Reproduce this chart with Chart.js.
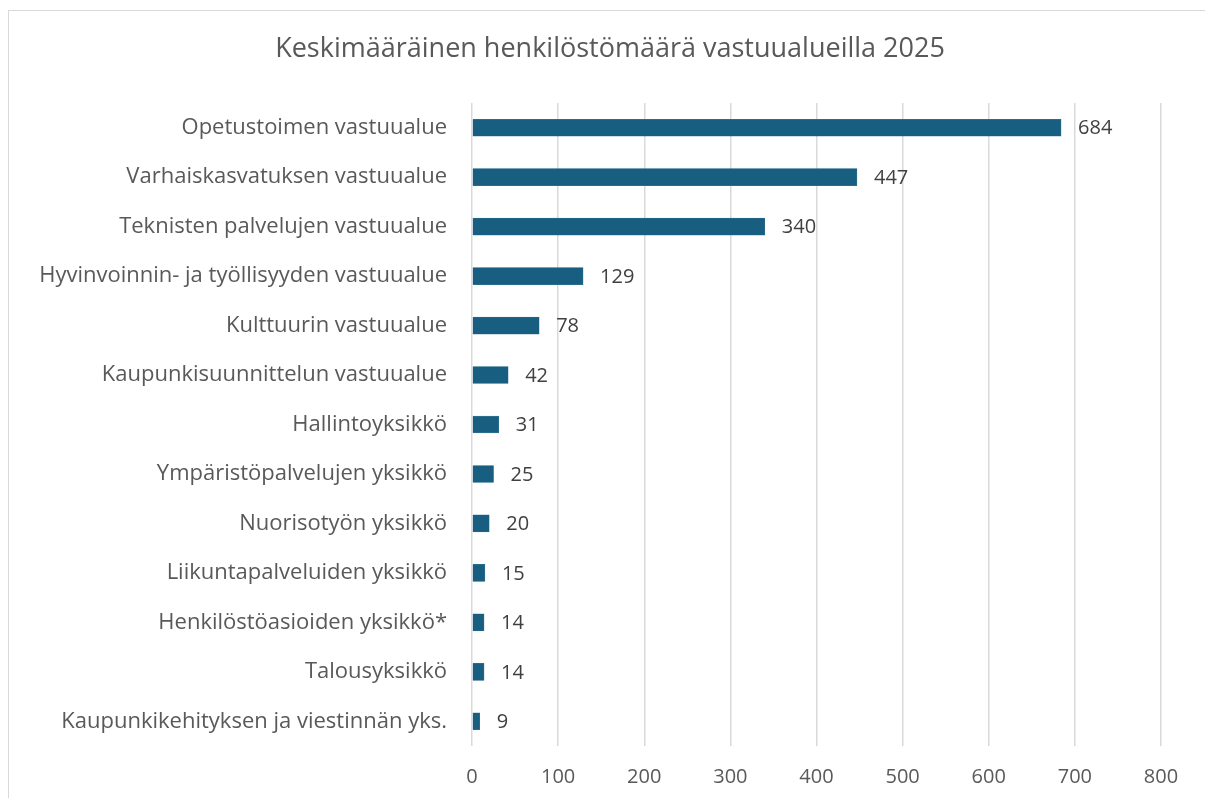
<!DOCTYPE html>
<html lang="fi">
<head>
    <meta charset="UTF-8">
    <title>Keskimääräinen henkilöstömäärä vastuualueilla 2025</title>
    <script src="https://cdn.jsdelivr.net/npm/chart.js"></script>
    <style>
        body {
            margin: 0;
            background: #ffffff;
            overflow: hidden;
        }
        .frame {
            position: absolute;
            left: 8px;
            top: 10px;
            width: 1210px;
            height: 800px;
            border-left: 1.5px solid #d9d9d9;
            border-top: 1.5px solid #d9d9d9;
        }
    </style>
</head>
<body>
    <div class="frame">
        <canvas id="henkilostoChart" width="1196" height="788"></canvas>
    </div>

<script>
    // data
    const otsikko = "Keskimääräinen henkilöstömäärä vastuualueilla 2025";
    const vastuualueet = [
        "Opetustoimen vastuualue",
        "Varhaiskasvatuksen vastuualue",
        "Teknisten palvelujen vastuualue",
        "Hyvinvoinnin- ja työllisyyden vastuualue",
        "Kulttuurin vastuualue",
        "Kaupunkisuunnittelun vastuualue",
        "Hallintoyksikkö",
        "Ympäristöpalvelujen yksikkö",
        "Nuorisotyön yksikkö",
        "Liikuntapalveluiden yksikkö",
        "Henkilöstöasioiden yksikkö*",
        "Talousyksikkö",
        "Kaupunkikehityksen ja viestinnän yks."
    ];
    const henkilosto = [684, 447, 340, 129, 78, 42, 31, 25, 20, 15, 14, 14, 9];
    const xMin = 0;
    const xMax = 800;
    const xStep = 100;

    const fontti = "'Open Sans', Roboto, sans-serif";
    const harmaa = "#595959";

    // otsikko keskelle koko kuvaa (ei piirtoalueen mukaan)
    const otsikkoPlugin = {
        id: 'otsikkoPlugin',
        afterDraw(chart) {
            const ctx = chart.ctx;
            ctx.save();
            ctx.font = "27px " + fontti;
            ctx.fillStyle = harmaa;
            ctx.textAlign = "center";
            ctx.textBaseline = "middle";
            ctx.fillText(otsikko, chart.width / 2 + 3, 38);
            ctx.restore();
        }
    };

    // arvot palkkien perään
    const arvoTekstit = {
        id: 'arvoTekstit',
        afterDatasetsDraw(chart) {
            const ctx = chart.ctx;
            const meta = chart.getDatasetMeta(0);
            ctx.save();
            ctx.font = "20px " + fontti;
            ctx.fillStyle = "#404040";
            ctx.textAlign = "left";
            ctx.textBaseline = "middle";
            meta.data.forEach((bar, i) => {
                ctx.fillText(String(henkilosto[i]), bar.x + 17, bar.y + 1);
            });
            ctx.restore();
        }
    };

    let ctx = document.getElementById('henkilostoChart').getContext('2d');
    new Chart(ctx, {
        type: 'bar',
        data: {
            labels: vastuualueet,
            datasets: [{
                label: 'Henkilöstömäärä',
                data: henkilosto,
                backgroundColor: '#185e80',
                borderColor: '#3d7a98',
                borderWidth: 0.5,
                barThickness: 17
            }]
        },
        options: {
            indexAxis: 'y',
            responsive: false,
            animation: false,
            layout: { padding: { left: 0, right: 44, top: 92, bottom: 0 } },
            plugins: {
                legend: { display: false },
                tooltip: { enabled: false },
                title: { display: false }
            },
            scales: {
                x: {
                    min: xMin,
                    max: xMax,
                    ticks: {
                        stepSize: xStep,
                        color: harmaa,
                        padding: 19,
                        font: { family: fontti, size: 20 }
                    },
                    grid: {
                        color: '#d9d9d9',
                        lineWidth: 1.5,
                        drawTicks: false
                    },
                    border: { display: false },
                    afterFit(scale) { scale.height = 53; }
                },
                y: {
                    ticks: {
                        color: harmaa,
                        padding: 25,
                        font: { family: fontti, size: 22 }
                    },
                    grid: { display: false, drawTicks: false },
                    border: { display: false },
                    afterFit(scale) { scale.width = 463; }
                }
            }
        },
        plugins: [arvoTekstit, otsikkoPlugin]
    });
</script>
</body>
</html>
